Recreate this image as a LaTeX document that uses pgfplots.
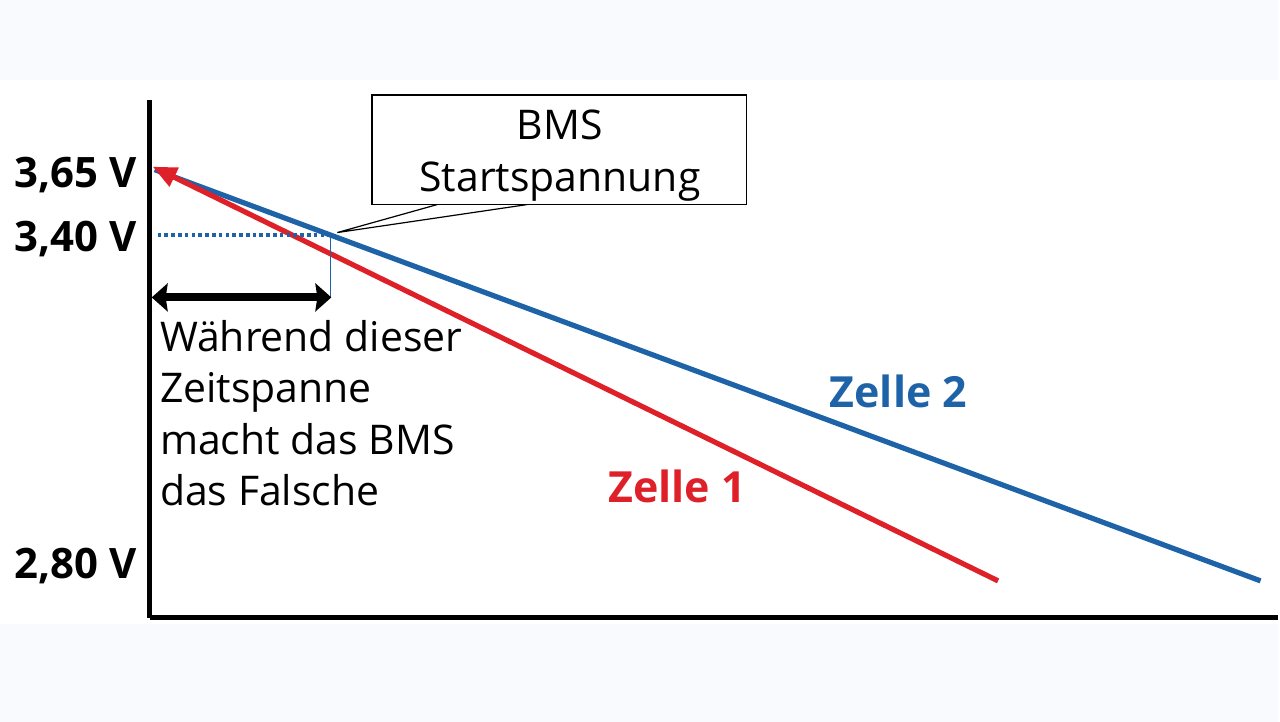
\documentclass[border=0pt]{standalone}
\usepackage{pgfplots}
\pgfplotsset{compat=1.18}
\usepackage{fontspec}
\setmainfont{Open Sans}
\usetikzlibrary{arrows.meta}
\definecolor{cblue}{RGB}{30,98,168}
\definecolor{cred}{RGB}{222,32,40}
\definecolor{bgband}{RGB}{249,250,253}
\begin{document}
\begin{tikzpicture}
\begin{axis}[
  scale only axis, width=565pt, height=259.5pt,
  xmin=150, xmax=1280, ymin=104, ymax=623,
  axis lines=left, axis line style={line width=2.5pt, -},
  clip=false,
  xtick=\empty,
  ytick={143,471,535},
  yticklabels={2{,}80 V,3{,}40 V,3{,}65 V},
  major tick length=0pt,
  yticklabel style={font=\bfseries\fontsize{21pt}{25pt}\selectfont, anchor=base east, inner sep=0pt, xshift=-6.5pt},
]
% background bands (decoration)
\fill[bgband] (axis cs:0,643) rectangle (axis cs:1280,723);
\fill[bgband] (axis cs:0,0) rectangle (axis cs:1280,98);
% data lines
\addplot[cblue, line width=2.6pt] coordinates {(155,553) (1263,141)};
\addplot[cred, line width=2.6pt, -{Triangle[length=12pt,width=10pt]}] coordinates {(1000,141) (153,556)};
% BMS start voltage marker
\addplot[cblue, line width=2pt, dash pattern=on 1.8pt off 1.6pt] coordinates {(158,488) (330,488)};
\addplot[cblue, line width=0.6pt] coordinates {(331,488) (331,424)};
\addplot[black, line width=4pt, {Stealth[length=8pt,width=14pt,inset=1pt]}-{Stealth[length=8pt,width=14pt,inset=1pt]}] coordinates {(152,425) (332,425)};
% callout
\draw[line width=0.8pt, fill=white] (axis cs:373,628) rectangle (axis cs:748,518);
\draw[line width=0.6pt] (axis cs:438,518) -- (axis cs:338,490) -- (axis cs:528,518);
\node[anchor=base, font=\fontsize{20.5pt}{25pt}\selectfont, inner sep=0pt] at (axis cs:561,583) {BMS};
\node[anchor=base, font=\fontsize{20.5pt}{25pt}\selectfont, inner sep=0pt] at (axis cs:561,531) {Startspannung};
% left text
\node[anchor=base west, font=\fontsize{20.5pt}{25pt}\selectfont, inner sep=0pt] at (axis cs:160,371) {Während dieser};
\node[anchor=base west, font=\fontsize{20.5pt}{25pt}\selectfont, inner sep=0pt] at (axis cs:160,320) {Zeitspanne};
\node[anchor=base west, font=\fontsize{20.5pt}{25pt}\selectfont, inner sep=0pt] at (axis cs:160,268) {macht das BMS};
\node[anchor=base west, font=\fontsize{20.5pt}{25pt}\selectfont, inner sep=0pt] at (axis cs:160,217) {das Falsche};
% series labels
\node[anchor=base west, font=\bfseries\fontsize{21.5pt}{25pt}\selectfont, text=cblue, inner sep=0pt] at (axis cs:831,315) {Zelle 2};
\node[anchor=base west, font=\bfseries\fontsize{21.5pt}{25pt}\selectfont, text=cred, inner sep=0pt] at (axis cs:609,220) {Zelle 1};
\end{axis}
\end{tikzpicture}
\end{document}
